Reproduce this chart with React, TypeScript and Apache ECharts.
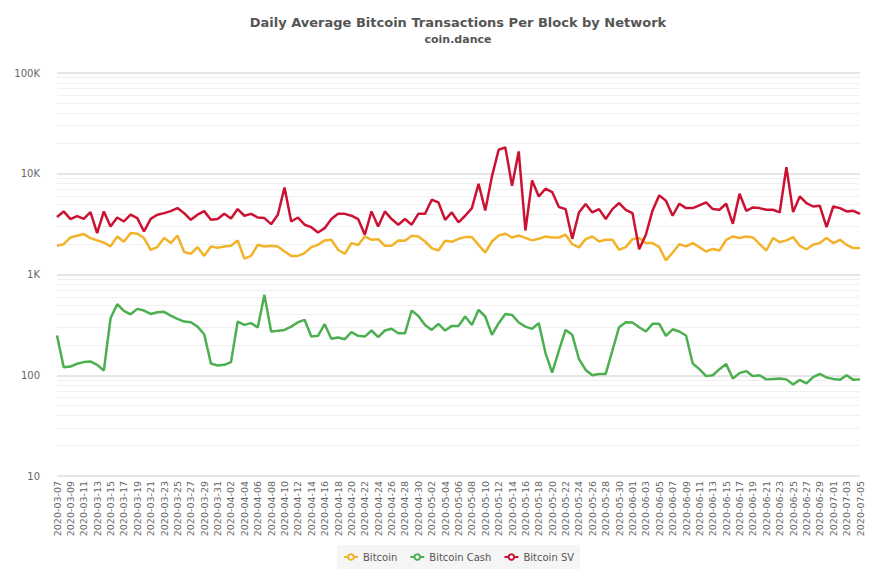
import { useEffect, useRef } from 'react';
import * as echarts from 'echarts';

// Daily average transactions per block, 2020-03-07 .. 2020-07-05
const startDate = '2020-03-07';
const dayCount = 121;

const bitcoin = [
  1930, 2000, 2330, 2420, 2520, 2300, 2180, 2080, 1900, 2385,
  2110, 2575, 2540, 2300, 1760, 1870, 2300, 2050, 2440, 1670,
  1605, 1870, 1530, 1900, 1840, 1900, 1930, 2180, 1440, 1530,
  1970, 1900, 1930, 1900, 1690, 1530, 1530, 1630, 1870, 1970,
  2180, 2210, 1760, 1605, 2050, 1960, 2385, 2210, 2240, 1930,
  1930, 2180, 2160, 2420, 2385, 2125, 1830, 1730, 2160, 2110,
  2260, 2350, 2350, 1970, 1650, 2125, 2440, 2540, 2330, 2440,
  2310, 2180, 2260, 2385, 2330, 2330, 2480, 2000, 1860, 2245,
  2385, 2125, 2210, 2210, 1760, 1870, 2245, 2300, 2050, 2050,
  1870, 1380, 1650, 2000, 1900, 2050, 1870, 1690, 1790, 1730,
  2210, 2385, 2300, 2385, 2330, 2000, 1730, 2300, 2090, 2180,
  2350, 1930, 1780, 1970, 2050, 2300, 2050, 2210, 1970, 1830,
  1830,
];

const bitcoinCash = [
  248, 120, 122, 130, 135, 137, 127, 111, 368, 507,
  435, 403, 456, 439, 406, 422, 426, 391, 363, 341,
  336, 304, 255, 131, 125, 127, 135, 341, 316, 329,
  298, 628, 272, 276, 282, 304, 336, 355, 242, 246,
  321, 230, 237, 228, 268, 246, 242, 278, 239, 278,
  289, 261, 261, 439, 388, 316, 282, 324, 278, 309,
  309, 383, 316, 446, 383, 252, 329, 406, 397, 334,
  304, 289, 329, 166, 106, 176, 282, 252, 145, 113,
  100, 103, 103, 176, 300, 336, 334, 300, 272, 324,
  324, 246, 286, 272, 248, 131, 115, 98, 100, 115,
  129, 93, 105, 110, 98, 100, 91, 92, 93, 91,
  81, 90, 83, 96, 103, 95, 92, 90, 100, 90,
  91,
];

const bitcoinSV = [
  3715, 4225, 3550, 3800, 3570, 4160, 2570, 4225, 3000, 3680,
  3360, 3920, 3630, 2670, 3570, 3920, 4065, 4255, 4560, 4065,
  3490, 3920, 4255, 3490, 3550, 4000, 3600, 4460, 3830, 4000,
  3680, 3630, 3160, 3920, 7310, 3360, 3680, 3120, 2950, 2610,
  2885, 3550, 4000, 4000, 3830, 3550, 2480, 4225, 3000, 4225,
  3550, 3120, 3550, 3120, 4000, 4000, 5520, 5190, 3490, 4130,
  3290, 3830, 4560, 7950, 4325, 9410, 17300, 18270, 7600, 16670,
  2735, 8590, 5960, 7100, 6580, 4670, 4460, 2260, 4130, 5000,
  4130, 4460, 3550, 4460, 5120, 4390, 4065, 1785, 2480, 4325,
  6100, 5400, 3830, 5040, 4560, 4560, 4845, 5190, 4460, 4390,
  5040, 3185, 6330, 4290, 4630, 4560, 4390, 4390, 4130, 11640,
  4160, 5960, 5120, 4730, 4810, 2950, 4730, 4560, 4225, 4290,
  4000,
];

// minor log grid lines (2..9 of each decade)
const minorLines = [
  20, 30, 40, 50, 60, 70, 80, 90,
  200, 300, 400, 500, 600, 700, 800, 900,
  2000, 3000, 4000, 5000, 6000, 7000, 8000, 9000,
  20000, 30000, 40000, 50000, 60000, 70000, 80000, 90000,
];

const seriesNames = ['Bitcoin', 'Bitcoin Cash', 'Bitcoin SV'];
const seriesColors = ['#f2b32a', '#4caf50', '#cc1233'];

function buildDates(start: string, n: number): string[] {
  const out: string[] = [];
  const d = new Date(start + 'T00:00:00Z');
  for (let i = 0; i < n; i++) {
    out.push(d.toISOString().slice(0, 10));
    d.setUTCDate(d.getUTCDate() + 1);
  }
  return out;
}

const dates = buildDates(startDate, dayCount);

const font = '"DejaVu Sans", "Noto Sans", sans-serif';

export default function App() {
  const chartRef = useRef<HTMLDivElement>(null);

  useEffect(() => {
    if (!chartRef.current) return;
    const chart = echarts.init(chartRef.current, undefined, { renderer: 'svg' });

    const values = [bitcoin, bitcoinCash, bitcoinSV];

    const option: echarts.EChartsOption = {
      animation: false,
      backgroundColor: '#ffffff',
      title: {
        text: 'Daily Average Bitcoin Transactions Per Block by Network',
        subtext: 'coin.dance',
        // centred over the plot area rather than the page
        left: 453,
        textAlign: 'center',
        top: 11,
        padding: 5,
        itemGap: 5,
        textStyle: {
          fontFamily: font,
          fontSize: 13,
          fontWeight: 'bold',
          color: '#555555',
        },
        subtextStyle: {
          fontFamily: font,
          fontSize: 11,
          fontWeight: 'bold',
          color: '#555555',
        },
      },
      legend: {
        data: seriesNames,
        left: 337,
        top: 545,
        backgroundColor: '#f5f5f5',
        padding: [7, 6],
        itemGap: 12,
        itemWidth: 14,
        itemHeight: 7,
        textStyle: { fontFamily: font, fontSize: 10, color: '#555555' },
      },
      grid: {
        left: 57,
        right: 17,
        top: 73,
        bottom: 109,
      },
      xAxis: {
        type: 'category',
        data: dates,
        boundaryGap: false,
        axisLine: { show: false },
        axisTick: { show: false },
        axisLabel: {
          rotate: 90,
          interval: 1,
          fontFamily: font,
          fontSize: 9.5,
          color: '#666666',
          margin: 5,
        },
        splitLine: { show: false },
      },
      yAxis: {
        type: 'log',
        logBase: 10,
        min: 10,
        max: 100000,
        axisLine: { show: false },
        axisTick: { show: false },
        axisLabel: {
          fontFamily: font,
          fontSize: 10,
          color: '#666666',
          margin: 17,
          formatter: (v: number) => {
            if (v >= 1000) return `${Math.round(v / 1000)}K`;
            return `${v}`;
          },
        },
        splitLine: { show: true, lineStyle: { color: '#e6e6e6', width: 2 } },
      },
      series: [
        {
          name: 'grid',
          type: 'line',
          data: [],
          z: 1,
          silent: true,
          markLine: {
            silent: true,
            z: 1,
            symbol: ['none', 'none'],
            label: { show: false },
            lineStyle: { color: '#f0f0f0', type: 'solid', width: 1 },
            data: minorLines.map((v) => ({ yAxis: v })),
          },
        },
        ...seriesNames.map((name, i) => ({
          name,
          type: 'line' as const,
          data: values[i],
          z: 10,
          symbol: 'emptyCircle',
          symbolSize: 7,
          showSymbol: false,
          color: seriesColors[i],
          lineStyle: { width: 2.5, color: seriesColors[i] },
        })),
      ],
    };

    chart.setOption(option);

    return () => {
      chart.dispose();
    };
  }, []);

  return (
    <div
      ref={chartRef}
      style={{ position: 'absolute', left: 0, top: 0, width: 877, height: 585 }}
    />
  );
}
